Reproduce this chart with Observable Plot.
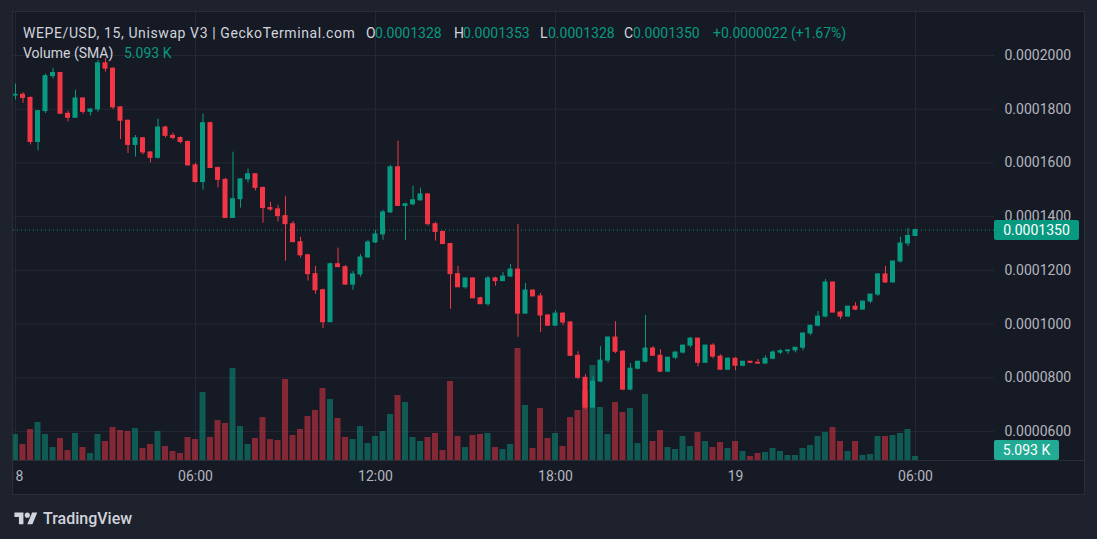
<!DOCTYPE html>
<html><head><meta charset="utf-8">
<script src="https://cdn.jsdelivr.net/npm/d3@7"></script>
<script src="https://cdn.jsdelivr.net/npm/@observablehq/plot@0.6"></script>
<style>
html,body{margin:0;padding:0;background:#1e222d;width:1097px;height:539px;overflow:hidden;font-family:Roboto,"DejaVu Sans",sans-serif;}
#frame{position:absolute;left:12px;top:11px;width:1073px;height:484px;border:1px solid #2a2e39;box-sizing:border-box;overflow:hidden;background:#161a25;}
.layer{position:absolute;left:-13px;top:-12px;}
#sep{position:absolute;left:0;top:448px;width:100%;height:1px;background:#2a2e39;}
.t{position:absolute;white-space:nowrap;font-size:14px;line-height:16px;color:#d1d4dc;}
.v{color:#089981;}
.box{position:absolute;color:#fff;font-size:14px;line-height:20px;height:20px;text-align:center;border-radius:2px;}
#logo{position:absolute;left:14px;top:509px;display:flex;align-items:center;gap:5px;color:#d1d4dc;font-size:16px;font-weight:500;}
</style></head>
<body>
<div id="frame"><div id="sep"></div></div>
<div class="t" style="left:23px;top:25px;letter-spacing:0.6px">WEPE/USD, 15, Uniswap V3 | GeckoTerminal.com</div>
<div class="t" style="left:366px;top:25px">O</div><div class="t v" style="left:375px;top:25px">0.0001328</div>
<div class="t" style="left:454px;top:25px">H</div><div class="t v" style="left:463px;top:25px">0.0001353</div>
<div class="t" style="left:540px;top:25px">L</div><div class="t v" style="left:548px;top:25px">0.0001328</div>
<div class="t" style="left:624px;top:25px">C</div><div class="t v" style="left:633px;top:25px">0.0001350</div>
<div class="t v" style="left:713px;top:25px">+0.0000022 (+1.67%)</div>
<div class="t" style="left:23px;top:45px">Volume (SMA)</div><div class="t v" style="left:124px;top:45px">5.093 K</div>
<div id="logo"><svg width="24" height="18" viewBox="0 0 36 28"><path fill="#d1d4dc" d="M14 22H7V11H0V4h14v18z"/><circle fill="#d1d4dc" cx="20" cy="8" r="4"/><path fill="#d1d4dc" d="M28 22h-8l7.5-18h8L28 22z"/></svg><span>TradingView</span></div>
<script>
// Prices in units of 0.0000001 USD, 15-minute candles starting 18th 00:00
const open = [1851,1854,1842,1678,1793,1923,1935,1783,1768,1840,
1790,1799,1971,1951,1807,1757,1667,1692,1639,1619,
1732,1701,1693,1678,1591,1529,1748,1581,1537,1395,
1465,1539,1558,1507,1432,1427,1402,1372,1305,1256,
1186,1126,1007,1223,1212,1147,1185,1248,1304,1334,
1416,1584,1440,1446,1461,1483,1372,1343,1298,1186,
1137,1170,1096,1074,1170,1160,1177,1203,1039,1125,
1103,1032,994,1039,1006,882,800,689,786,864,
950,897,756,834,860,909,882,823,875,894,
920,946,856,920,879,830,871,845,860,856,
853,871,894,899,902,912,965,994,1028,1155,
1043,1028,1065,1054,1084,1110,1185,1155,1233,1300,
1328];
const high = [1894,1861,1846,1795,1931,1953,1936,1793,1871,1842,
1800,1983,1989,1954,1809,1760,1702,1693,1641,1763,
1737,1711,1697,1682,1599,1782,1752,1585,1543,1640,
1540,1577,1559,1510,1453,1442,1476,1382,1323,1260,
1215,1130,1227,1283,1218,1196,1259,1312,1349,1424,
1591,1681,1450,1513,1506,1484,1379,1346,1301,1215,
1171,1171,1100,1177,1175,1192,1222,1371,1151,1126,
1114,1036,1050,1043,1010,897,812,804,916,951,
1009,902,853,861,1032,916,905,876,897,921,
950,947,921,927,886,875,875,861,861,868,
882,901,905,903,913,966,995,1047,1166,1156,
1048,1066,1080,1085,1111,1188,1215,1234,1323,1356,
1353];
const low = [1834,1822,1667,1645,1784,1913,1782,1753,1767,1781,
1775,1789,1938,1799,1687,1635,1622,1630,1600,1614,
1693,1686,1671,1588,1525,1499,1580,1507,1394,1394,
1432,1525,1496,1376,1420,1380,1234,1304,1246,1160,
1111,984,1006,1211,1144,1126,1174,1245,1300,1312,
1412,1439,1312,1440,1457,1365,1309,1297,1055,1136,
1130,1095,1073,1066,1141,1159,1174,951,1038,1102,
969,991,992,994,879,793,681,688,782,853,
890,752,752,829,855,881,819,819,868,889,
912,841,855,871,829,829,826,841,853,850,
852,867,887,887,893,901,957,990,1023,1042,
1017,1027,1050,1053,1076,1103,1151,1154,1228,1289,
1328];
const close = [1854,1842,1678,1793,1923,1935,1783,1768,1840,1790,
1799,1971,1951,1807,1757,1667,1692,1639,1619,1732,
1701,1693,1678,1591,1529,1748,1581,1537,1395,1465,
1539,1558,1507,1432,1427,1402,1372,1305,1256,1186,
1126,1007,1223,1212,1147,1185,1248,1304,1334,1416,
1584,1440,1446,1461,1483,1372,1343,1298,1186,1137,
1170,1096,1074,1170,1160,1177,1203,1039,1125,1103,
1032,994,1039,1006,882,800,689,786,864,950,
897,756,834,860,909,882,823,875,894,920,
946,856,920,879,830,871,845,860,856,853,
871,894,899,902,912,965,994,1028,1155,1043,
1028,1065,1054,1084,1110,1185,1155,1233,1300,1328,
1350];
// Volume in thousands
const volumeK = [33.1,20.4,39.5,48.4,33.1,16.5,28.0,12.7,34.4,16.5,
8.9,33.1,24.2,42.0,38.2,36.9,40.7,15.3,20.4,36.9,
17.8,11.5,8.9,29.3,26.7,86.6,29.3,50.9,47.1,117.1,
43.3,20.4,28.0,54.7,26.7,25.5,103.1,31.8,39.5,56.0,
63.7,91.7,77.7,53.5,29.3,26.7,43.3,21.6,30.6,36.9,
58.6,82.7,73.8,29.3,24.2,29.3,34.4,12.7,100.6,30.6,
16.5,31.8,33.1,34.4,16.5,14.0,20.4,142.6,70.0,15.3,
66.2,28.0,34.4,17.8,54.7,63.7,89.1,120.9,67.5,33.1,
73.8,61.1,66.2,21.6,84.0,24.2,38.2,16.5,14.0,30.6,
17.8,35.6,24.2,16.5,22.9,15.3,24.2,11.5,5.1,8.9,
10.2,15.3,11.5,6.4,6.4,15.3,19.1,30.6,35.6,42.0,
24.2,11.5,24.2,6.4,7.6,30.6,30.6,31.8,34.4,39.5,
5.093];
const priceTicks = [600,800,1000,1200,1400,1600,1800,2000];
const timeTickHours = [0,6,12,18,24,30];
const unit = 1e-7;
const startTime = Date.UTC(2024, 3, 18, 0, 0);
const barMs = 15*60000;

const UP = "#089981", DOWN = "#f23645", GRID = "#242833";
const candles = open.map((o,i)=>({
  t: new Date(startTime + i*barMs),
  o: o*unit, h: high[i]*unit, l: low[i]*unit, c: close[i]*unit,
  v: volumeK[i], col: close[i] >= o ? UP : DOWN
}));
const timeTicks = timeTickHours.map(h => new Date(startTime + h*3600000));
const fmtTime = d => d.getUTCHours()===0 && d.getUTCMinutes()===0 ? String(d.getUTCDate()) : d3.utcFormat("%H:%M")(d);
const xDomain = [new Date(startTime - 4*60000), new Date(startTime + 1958*60000)];
const yDomain = [492.2*unit, 2160.1*unit];
const common = {width:1097, height:539, marginLeft:13, marginRight:103, marginTop:12, marginBottom:79,
  style:{background:"transparent", maxWidth:"none", color:"#b2b5be", fontFamily:"Roboto, sans-serif", fontSize:"14px", overflow:"visible"}};

const base = Plot.plot({...common,
  x:{type:"utc", domain:xDomain}, y:{domain:yDomain},
  marks:[
    Plot.gridY(priceTicks.map(p=>p*unit), {stroke:GRID, strokeOpacity:1}),
    Plot.gridX(timeTicks, {stroke:GRID, strokeOpacity:1}),
    Plot.axisY(priceTicks.map(p=>p*unit), {anchor:"right", tickSize:0, tickPadding:10, tickFormat:d=>d.toFixed(7), label:null}),
    Plot.axisX(timeTicks, {tickSize:0, tickPadding:11, tickFormat:fmtTime, label:null})
  ]});

const vol = Plot.plot({...common,
  x:{type:"utc", domain:xDomain, axis:null}, y:{domain:[0,570.3], axis:null}, color:{type:"identity"},
  marks:[
    Plot.rectY(candles, {x1:d=>new Date(+d.t-6*60000), x2:d=>new Date(+d.t+6*60000), y:"v", fill:"col", fillOpacity:0.5})
  ]});

const lastClose = close[close.length-1]*unit;
const cd = Plot.plot({...common,
  x:{type:"utc", domain:xDomain, axis:null}, y:{domain:yDomain, axis:null}, color:{type:"identity"},
  marks:[
    Plot.ruleY([lastClose], {stroke:UP, strokeDasharray:"1,3"}),
    Plot.ruleX(candles, {x:"t", y1:"l", y2:"h", stroke:"col"}),
    Plot.rect(candles, {x1:d=>new Date(+d.t-5*60000), x2:d=>new Date(+d.t+5*60000), y1:"o", y2:"c", fill:"col", insetTop:-0.5, insetBottom:-0.5})
  ]});

const frame = document.getElementById("frame");
for (const p of [base, vol, cd]) { p.classList.add("layer"); frame.appendChild(p); }

// last-value labels on the price scale, placed with the library's scales
const py = cd.scale("y").apply(lastClose);
const pl = document.createElement("div");
pl.className = "box"; pl.textContent = (lastClose).toFixed(7);
Object.assign(pl.style, {left:"994px", width:"85px", top:(py-10)+"px", background:"#089981"});
document.body.appendChild(pl);
const vy = vol.scale("y").apply(volumeK[volumeK.length-1]);
const vl = document.createElement("div");
vl.className = "box"; vl.textContent = volumeK[volumeK.length-1].toFixed(3) + " K";
Object.assign(vl.style, {left:"994px", width:"65px", top:Math.min(vy-10, 440)+"px", background:"#22ab94"});
document.body.appendChild(vl);
</script>
</body></html>
